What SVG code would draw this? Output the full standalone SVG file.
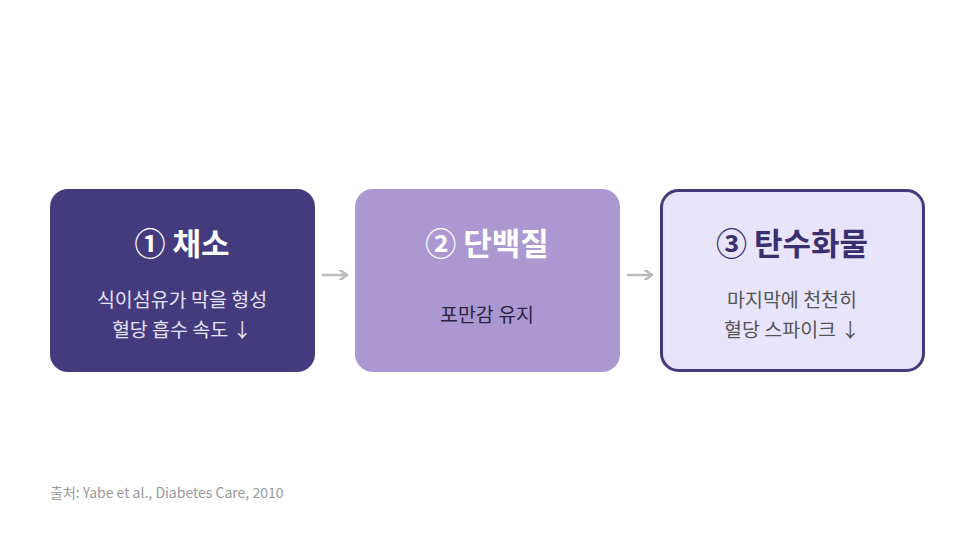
<svg xmlns="http://www.w3.org/2000/svg" width="966" height="539" viewBox="0 0 966 539">
<style>
text{font-family:"Noto Sans CJK KR","Noto Sans",sans-serif;text-anchor:middle}
.t{font-size:31px;font-weight:700}
.b{font-size:19.5px}
</style>
<defs><marker id="ah" markerWidth="10" markerHeight="10" refX="8" refY="5" orient="auto" markerUnits="userSpaceOnUse"><path d="M1,0 L8,5 L1,10" fill="none" stroke="#bbbbbb" stroke-width="2.5" stroke-linecap="round" stroke-linejoin="round"/></marker></defs>
<rect width="966" height="539" fill="#ffffff"/>
<g id="n1"><rect x="50" y="189" width="265" height="183" rx="18" fill="#443a7e"/>
<text class="t" x="182" y="255" fill="#ffffff">① 채소</text>
<text class="b" x="182" y="307" fill="#e6e2f5">식이섬유가 막을 형성</text>
<text class="b" x="182" y="337" fill="#e6e2f5">혈당 흡수 속도 ↓</text></g>
<g id="n2"><rect x="355" y="189" width="265" height="183" rx="18" fill="#ab98d0"/>
<text class="t" x="487" y="255" fill="#ffffff">② 단백질</text>
<text class="b" x="487" y="322" fill="#2a2540">포만감 유지</text></g>
<g id="n3"><rect x="661.5" y="190.5" width="262" height="180" rx="17" fill="#e8e4fb" stroke="#443a7e" stroke-width="3"/>
<text class="t" x="792" y="255" fill="#3a3070">③ 탄수화물</text>
<text class="b" x="792" y="307" fill="#555555">마지막에 천천히</text>
<text class="b" x="792" y="337" fill="#555555">혈당 스파이크 ↓</text></g>
<g id="connectors" stroke="#bbbbbb" stroke-width="2.5" stroke-linecap="round" marker-end="url(#ah)">
<line x1="323" y1="275" x2="347" y2="275"/>
<line x1="628" y1="275" x2="652" y2="275"/>
</g>
<text x="50" y="498" style="text-anchor:start;font-size:14px" fill="#999999">출처: Yabe et al., Diabetes Care, 2010</text>
</svg>
